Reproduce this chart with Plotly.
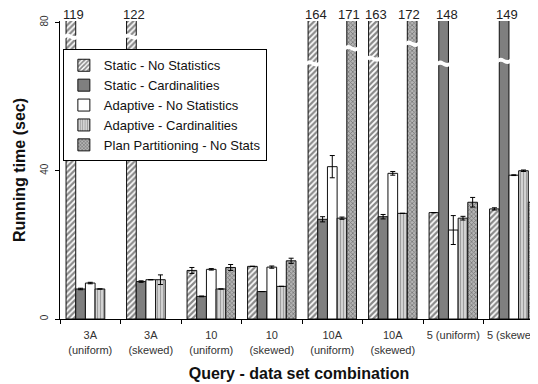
import plotly.graph_objects as go

# ---------------- data ----------------
categories = ["3A<br>(uniform)", "3A<br>(skewed)", "10<br>(uniform)", "10<br>(skewed)",
              "10A<br>(uniform)", "10A<br>(skewed)", "5 (uniform)", "5 (skewed)"]

series_names = ["Static - No Statistics", "Static - Cardinalities", "Adaptive - No Statistics",
                "Adaptive - Cardinalities", "Plan Partitioning - No Stats"]

static_nostats = [119, 122, 13.1, 14.2, 164, 163, 28.7, 29.7]
static_card = [8.1, 10.1, 6.1, 7.4, 26.9, 27.6, 148, 149]
adaptive_nostats = [9.7, 10.6, 13.4, 14.0, 41.1, 39.3, 24.0, 38.8]
adaptive_card = [8.1, 10.6, 8.1, 8.8, 27.2, 28.5, 27.2, 40.0]
plan_part = [None, None, 13.9, 15.7, 171, 172, 31.5, 31.5]

static_nostats_err = [0, 0, 0.8, 0, 0, 0, 0, 0.3]
static_card_err = [0.2, 0.2, 0.1, 0, 0.7, 0.6, 0, 0]
adaptive_nostats_err = [0.2, 0, 0.2, 0.3, 3.0, 0.5, 3.9, 0.1]
adaptive_card_err = [0, 1.3, 0, 0, 0.3, 0, 0.5, 0.2]
plan_part_err = [0, 0, 0.8, 0.7, 0, 0, 1.3, 0.8]

y_ticks = [0, 40, 80]
y_max = 80.4

# where the axis-break marks sit on the clipped (too tall) bars, in data units
break_at = {(0, 0): 76.2, (0, 1): 76.2, (0, 4): 69.0, (4, 4): 73.1,
            (0, 5): 70.3, (4, 5): 74.3, (1, 6): 68.9, (1, 7): 69.7}

# ---------------- styling ----------------
FONT = "Arial, Liberation Sans, sans-serif"
values = [static_nostats, static_card, adaptive_nostats, adaptive_card, plan_part]
errors = [static_nostats_err, static_card_err, adaptive_nostats_err, adaptive_card_err, plan_part_err]
styles = [
    dict(color="white", pattern=dict(shape="/", fgcolor="#111111", bgcolor="white", size=4, solidity=0.55)),
    dict(color="#7f7f7f"),
    dict(color="white"),
    dict(color="#c8c8c8", pattern=dict(shape="|", fgcolor="#5a5a5a", bgcolor="#e2e2e2", size=3, solidity=0.5)),
    dict(color="#a0a0a0", pattern=dict(shape="x", fgcolor="#3a3a3a", bgcolor="#b4b4b4", size=3, solidity=0.45)),
]
label_shift = [3, 3, 3, 3, -3]

x_idx = list(range(len(categories)))
n_series = len(values)
group_w = 0.8
bar_w = group_w / n_series

fig = go.Figure()
for k in range(n_series):
    fig.add_trace(go.Bar(
        x=x_idx, y=values[k], name=series_names[k],
        marker=dict(line=dict(color="#111111", width=1), **styles[k]),
        error_y=dict(type="data", array=errors[k], color="black", thickness=1, width=2.5),
    ))

# labels for clipped bars + break marks
annotations = []
shapes = []
for k in range(n_series):
    for i, v in enumerate(values[k]):
        if v is None or v <= y_max:
            continue
        xc = i - group_w / 2 + bar_w * (k + 0.5)
        annotations.append(dict(x=xc, y=1, xref="x", yref="paper", yanchor="bottom",
                                text=str(v), showarrow=False, xshift=label_shift[k], yshift=-3,
                                font=dict(family=FONT, size=13, color="#222222")))
        yb = break_at.get((k, i))
        if yb is not None:
            x0 = xc - bar_w * 0.62
            x1 = xc + bar_w * 0.62
            w = x1 - x0
            path = (f"M{x0},{yb + 0.5} C{x0 + w/3},{yb + 1.6} {x0 + 2*w/3},{yb - 0.6} {x1},{yb + 0.5} "
                    f"L{x1},{yb - 0.6} C{x0 + 2*w/3},{yb - 1.7} {x0 + w/3},{yb + 0.5} {x0},{yb - 0.6} Z")
            shapes.append(dict(type="path", path=path, xref="x", yref="y",
                               fillcolor="white", line=dict(width=0)))

fig.update_layout(
    width=530, height=376,
    margin=dict(l=52, r=0, t=13, b=65),
    paper_bgcolor="white", plot_bgcolor="white",
    barmode="group", bargap=0.2, bargroupgap=0,
    font=dict(family=FONT, color="#222222"),
    showlegend=True,
    legend=dict(x=0.006, y=0.905, xanchor="left", yanchor="top",
                bgcolor="white", bordercolor="black", borderwidth=1,
                font=dict(family=FONT, size=13, color="#111111"),
                itemwidth=30, tracegroupgap=0),
    annotations=annotations,
    shapes=shapes,
)

fig.update_xaxes(
    automargin=False, ticklabeloverflow="allow", ticklabelstandoff=6,
    range=[-0.5, 7.4], tickmode="array", tickvals=x_idx, ticktext=categories,
    ticks="", tickfont=dict(family=FONT, size=11, color="#333333"),
    showline=True, linecolor="black", linewidth=1, showgrid=False, zeroline=False,
    minor=dict(tickmode="array", tickvals=[i - 0.5 for i in range(len(categories) + 1)],
               ticks="outside", ticklen=4, tickcolor="black", tickwidth=1, showgrid=False),
    title=dict(text="<b>Query - data set combination</b>", font=dict(family=FONT, size=16, color="#111111"),
               standoff=13),
)
fig.update_yaxes(
    automargin=False, ticklabelstandoff=3,
    range=[0, y_max], tickmode="array", tickvals=y_ticks, ticktext=[str(t) for t in y_ticks],
    tickangle=-90, ticks="outside", ticklen=4, tickcolor="black",
    tickfont=dict(family=FONT, size=10, color="#333333"),
    showline=True, linecolor="black", linewidth=1, showgrid=False, zeroline=False,
    title=dict(text="<b>Running time (sec)</b>", font=dict(family=FONT, size=16, color="#111111"),
               standoff=9),
)

fig.write_html("out.html")
